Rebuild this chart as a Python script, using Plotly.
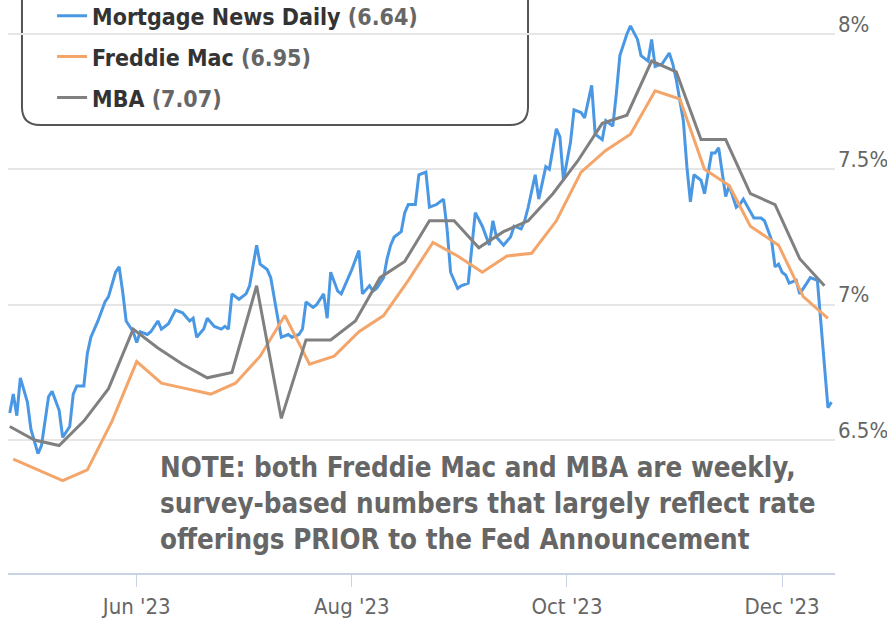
import plotly.graph_objects as go

# ---------------- data ----------------
mnd_dates = [
    "2023-04-26", "2023-04-27", "2023-04-28", "2023-04-29", "2023-05-01", "2023-05-02", "2023-05-04", "2023-05-05",
    "2023-05-07", "2023-05-08", "2023-05-10", "2023-05-11", "2023-05-13", "2023-05-14", "2023-05-15", "2023-05-17",
    "2023-05-18", "2023-05-19", "2023-05-21", "2023-05-23", "2023-05-24", "2023-05-26", "2023-05-27", "2023-05-28",
    "2023-05-29", "2023-05-31", "2023-06-01", "2023-06-02", "2023-06-04", "2023-06-05", "2023-06-07", "2023-06-08",
    "2023-06-10", "2023-06-12", "2023-06-14", "2023-06-16", "2023-06-17", "2023-06-18", "2023-06-20", "2023-06-21",
    "2023-06-23", "2023-06-25", "2023-06-26", "2023-06-27", "2023-06-28", "2023-06-30", "2023-07-02", "2023-07-03",
    "2023-07-05", "2023-07-06", "2023-07-08", "2023-07-09", "2023-07-11", "2023-07-12", "2023-07-14", "2023-07-15",
    "2023-07-17", "2023-07-18", "2023-07-19", "2023-07-21", "2023-07-22", "2023-07-24", "2023-07-25", "2023-07-26",
    "2023-07-28", "2023-07-29", "2023-07-31", "2023-08-01", "2023-08-03", "2023-08-04", "2023-08-06", "2023-08-07",
    "2023-08-08", "2023-08-10", "2023-08-11", "2023-08-12", "2023-08-13", "2023-08-15", "2023-08-16", "2023-08-17",
    "2023-08-19", "2023-08-20", "2023-08-22", "2023-08-23", "2023-08-25", "2023-08-27", "2023-08-28", "2023-08-29",
    "2023-08-31", "2023-09-01", "2023-09-03", "2023-09-04", "2023-09-05", "2023-09-07", "2023-09-09", "2023-09-10",
    "2023-09-11", "2023-09-13", "2023-09-15", "2023-09-16", "2023-09-18", "2023-09-19", "2023-09-20", "2023-09-22",
    "2023-09-23", "2023-09-25", "2023-09-26", "2023-09-28", "2023-09-29", "2023-09-30", "2023-10-02", "2023-10-03",
    "2023-10-05", "2023-10-06", "2023-10-08", "2023-10-09", "2023-10-11", "2023-10-12", "2023-10-14", "2023-10-15",
    "2023-10-16", "2023-10-18", "2023-10-19", "2023-10-21", "2023-10-22", "2023-10-24", "2023-10-25", "2023-10-26",
    "2023-10-28", "2023-10-30", "2023-10-31", "2023-11-01", "2023-11-03", "2023-11-04", "2023-11-05", "2023-11-06",
    "2023-11-08", "2023-11-09", "2023-11-11", "2023-11-12", "2023-11-13", "2023-11-15", "2023-11-16", "2023-11-18",
    "2023-11-19", "2023-11-20", "2023-11-22", "2023-11-23", "2023-11-25", "2023-11-26", "2023-11-28", "2023-11-29",
    "2023-11-30", "2023-12-01", "2023-12-02", "2023-12-03", "2023-12-05", "2023-12-06", "2023-12-08", "2023-12-09",
    "2023-12-11", "2023-12-14", "2023-12-15",
]
mnd_values = [
    6.60, 6.67, 6.59, 6.73, 6.64, 6.54, 6.45, 6.48,
    6.66, 6.68, 6.61, 6.51, 6.55, 6.67, 6.70, 6.70,
    6.82, 6.88, 6.94, 7.01, 7.03, 7.12, 7.14, 7.05,
    6.94, 6.90, 6.86, 6.90, 6.89, 6.90, 6.94, 6.91,
    6.93, 6.98, 6.97, 6.94, 6.95, 6.88, 6.91, 6.95,
    6.92, 6.91, 6.92, 6.91, 7.04, 7.02, 7.04, 7.07,
    7.22, 7.15, 7.13, 7.10, 6.95, 6.88, 6.89, 6.88,
    6.89, 6.91, 7.01, 6.99, 7.00, 7.04, 6.95, 7.12,
    7.05, 7.04, 7.10, 7.13, 7.20, 7.04, 7.07, 7.05,
    7.06, 7.10, 7.17, 7.22, 7.25, 7.27, 7.34, 7.37,
    7.37, 7.48, 7.49, 7.36, 7.37, 7.39, 7.28, 7.12,
    7.06, 7.07, 7.08, 7.20, 7.34, 7.29, 7.22, 7.31,
    7.25, 7.22, 7.25, 7.29, 7.28, 7.31, 7.36, 7.48,
    7.39, 7.51, 7.50, 7.65, 7.62, 7.46, 7.60, 7.72,
    7.71, 7.69, 7.81, 7.63, 7.61, 7.68, 7.66, 7.78,
    7.92, 8.00, 8.03, 7.98, 7.92, 7.90, 7.98, 7.88,
    7.89, 7.93, 7.89, 7.83, 7.68, 7.51, 7.38, 7.48,
    7.46, 7.41, 7.56, 7.56, 7.58, 7.40, 7.44, 7.36,
    7.37, 7.39, 7.34, 7.32, 7.32, 7.31, 7.24, 7.14,
    7.15, 7.12, 7.11, 7.08, 7.09, 7.04, 7.08, 7.10,
    7.09, 6.62, 6.64,
]

fm_dates = [
    "2023-04-27", "2023-05-04", "2023-05-11", "2023-05-18", "2023-05-25", "2023-06-01", "2023-06-08", "2023-06-15",
    "2023-06-22", "2023-06-29", "2023-07-06", "2023-07-13", "2023-07-20", "2023-07-27", "2023-08-03", "2023-08-10",
    "2023-08-17", "2023-08-24", "2023-08-31", "2023-09-07", "2023-09-14", "2023-09-21", "2023-09-28", "2023-10-05",
    "2023-10-12", "2023-10-19", "2023-10-26", "2023-11-02", "2023-11-09", "2023-11-16", "2023-11-22", "2023-11-30",
    "2023-12-07", "2023-12-14",
]
fm_values = [
    6.43, 6.39, 6.35, 6.39, 6.57, 6.79, 6.71, 6.69,
    6.67, 6.71, 6.81, 6.96, 6.78, 6.81, 6.90, 6.96,
    7.09, 7.23, 7.18, 7.12, 7.18, 7.19, 7.31, 7.49,
    7.57, 7.63, 7.79, 7.76, 7.50, 7.44, 7.29, 7.22,
    7.03, 6.95,
]

mba_dates = [
    "2023-04-26", "2023-05-03", "2023-05-10", "2023-05-17", "2023-05-24", "2023-05-31", "2023-06-07", "2023-06-14",
    "2023-06-21", "2023-06-28", "2023-07-05", "2023-07-12", "2023-07-19", "2023-07-26", "2023-08-02", "2023-08-09",
    "2023-08-16", "2023-08-23", "2023-08-30", "2023-09-06", "2023-09-13", "2023-09-20", "2023-09-27", "2023-10-04",
    "2023-10-11", "2023-10-18", "2023-10-25", "2023-11-01", "2023-11-08", "2023-11-15", "2023-11-22", "2023-11-29",
    "2023-12-06", "2023-12-13",
]
mba_values = [
    6.55, 6.50, 6.48, 6.57, 6.69, 6.91, 6.84, 6.78,
    6.73, 6.75, 7.07, 6.58, 6.87, 6.87, 6.94, 7.10,
    7.16, 7.31, 7.31, 7.21, 7.27, 7.31, 7.41, 7.53,
    7.67, 7.70, 7.90, 7.86, 7.61, 7.61, 7.41, 7.37,
    7.17, 7.07,
]

series_names = ["Mortgage News Daily", "Freddie Mac", "MBA"]
latest_labels = ["(6.64)", "(6.95)", "(7.07)"]
y_tick_vals = [6.5, 7.0, 7.5, 8.0]
y_tick_text = ["6.5%", "7%", "7.5%", "8%"]
note_lines = [
    "NOTE: both Freddie Mac and MBA are weekly,",
    "survey-based numbers that largely reflect rate",
    "offerings PRIOR to the Fed Announcement",
]

# ---------------- styling ----------------
FONT = "DejaVu Sans Condensed, DejaVu Sans, sans-serif"
colors = ["#4a98e4", "#f4a56a", "#808080"]

fig = go.Figure()
for i, (xs, ys) in enumerate([(mnd_dates, mnd_values), (fm_dates, fm_values), (mba_dates, mba_values)]):
    fig.add_trace(go.Scatter(
        x=xs, y=ys, mode="lines",
        name=f"{series_names[i]} <span style='color:#666666'>{latest_labels[i]}</span>",
        line=dict(color=colors[i], width=3),
        legendgroup=f"g{i}",
    ))

# rounded legend frame (decoration)
L, R, B, T = 0.0169, 0.6288, 0.7818, 1.06
rx, ry = 0.0218, 0.0314
frame = (f"M {L},{T} L {L},{B+ry} Q {L},{B} {L+rx},{B} L {R-rx},{B} "
         f"Q {R},{B} {R},{B+ry} L {R},{T}")
fig.add_shape(type="path", path=frame, xref="paper", yref="paper",
              line=dict(color="#555555", width=2), fillcolor="white", layer="between")

fig.add_annotation(
    text="<br>".join(note_lines), xref="paper", yref="paper",
    x=0.1814, y=0.216, xanchor="left", yanchor="top", align="left", showarrow=False,
    font=dict(family=FONT, size=27.5, color="#666666", weight="bold"),
)

fig.update_layout(
    width=887, height=621,
    margin=dict(l=8, r=52, t=0, b=48, autoexpand=False),
    paper_bgcolor="white", plot_bgcolor="white",
    showlegend=True,
    legend=dict(
        x=0.0533, y=1.01, xanchor="left", yanchor="top",
        bgcolor="rgba(0,0,0,0)", borderwidth=0,
        font=dict(family=FONT, size=23, color="#333333", weight="bold"),
        tracegroupgap=8, itemwidth=30,
    ),
    xaxis=dict(
        type="date",
        range=["2023-04-25 12:00", "2023-12-16 00:00"],
        tick0="2023-06-01", dtick="M2", tickformat="%b '%y",
        showgrid=False, zeroline=False,
        showline=True, linecolor="#c9d3e5", linewidth=2,
        ticks="outside", ticklen=12, tickcolor="#c9d3e5", tickwidth=1,
        ticklabelstandoff=1,
        tickfont=dict(family=FONT, size=22, color="#666666"),
    ),
    yaxis=dict(
        side="right", range=[6.009, 8.1256],
        tickvals=y_tick_vals, ticktext=y_tick_text,
        showgrid=True, gridcolor="#e6e6e6", gridwidth=1.5,
        zeroline=False, showline=False, ticks="",
        ticklabelshift=-10, ticklabelstandoff=2,
        tickfont=dict(family=FONT, size=22, color="#666666"),
    ),
)

fig.write_html("out.html", config={"displayModeBar": False},
               post_script="document.body.style.margin='0';")
